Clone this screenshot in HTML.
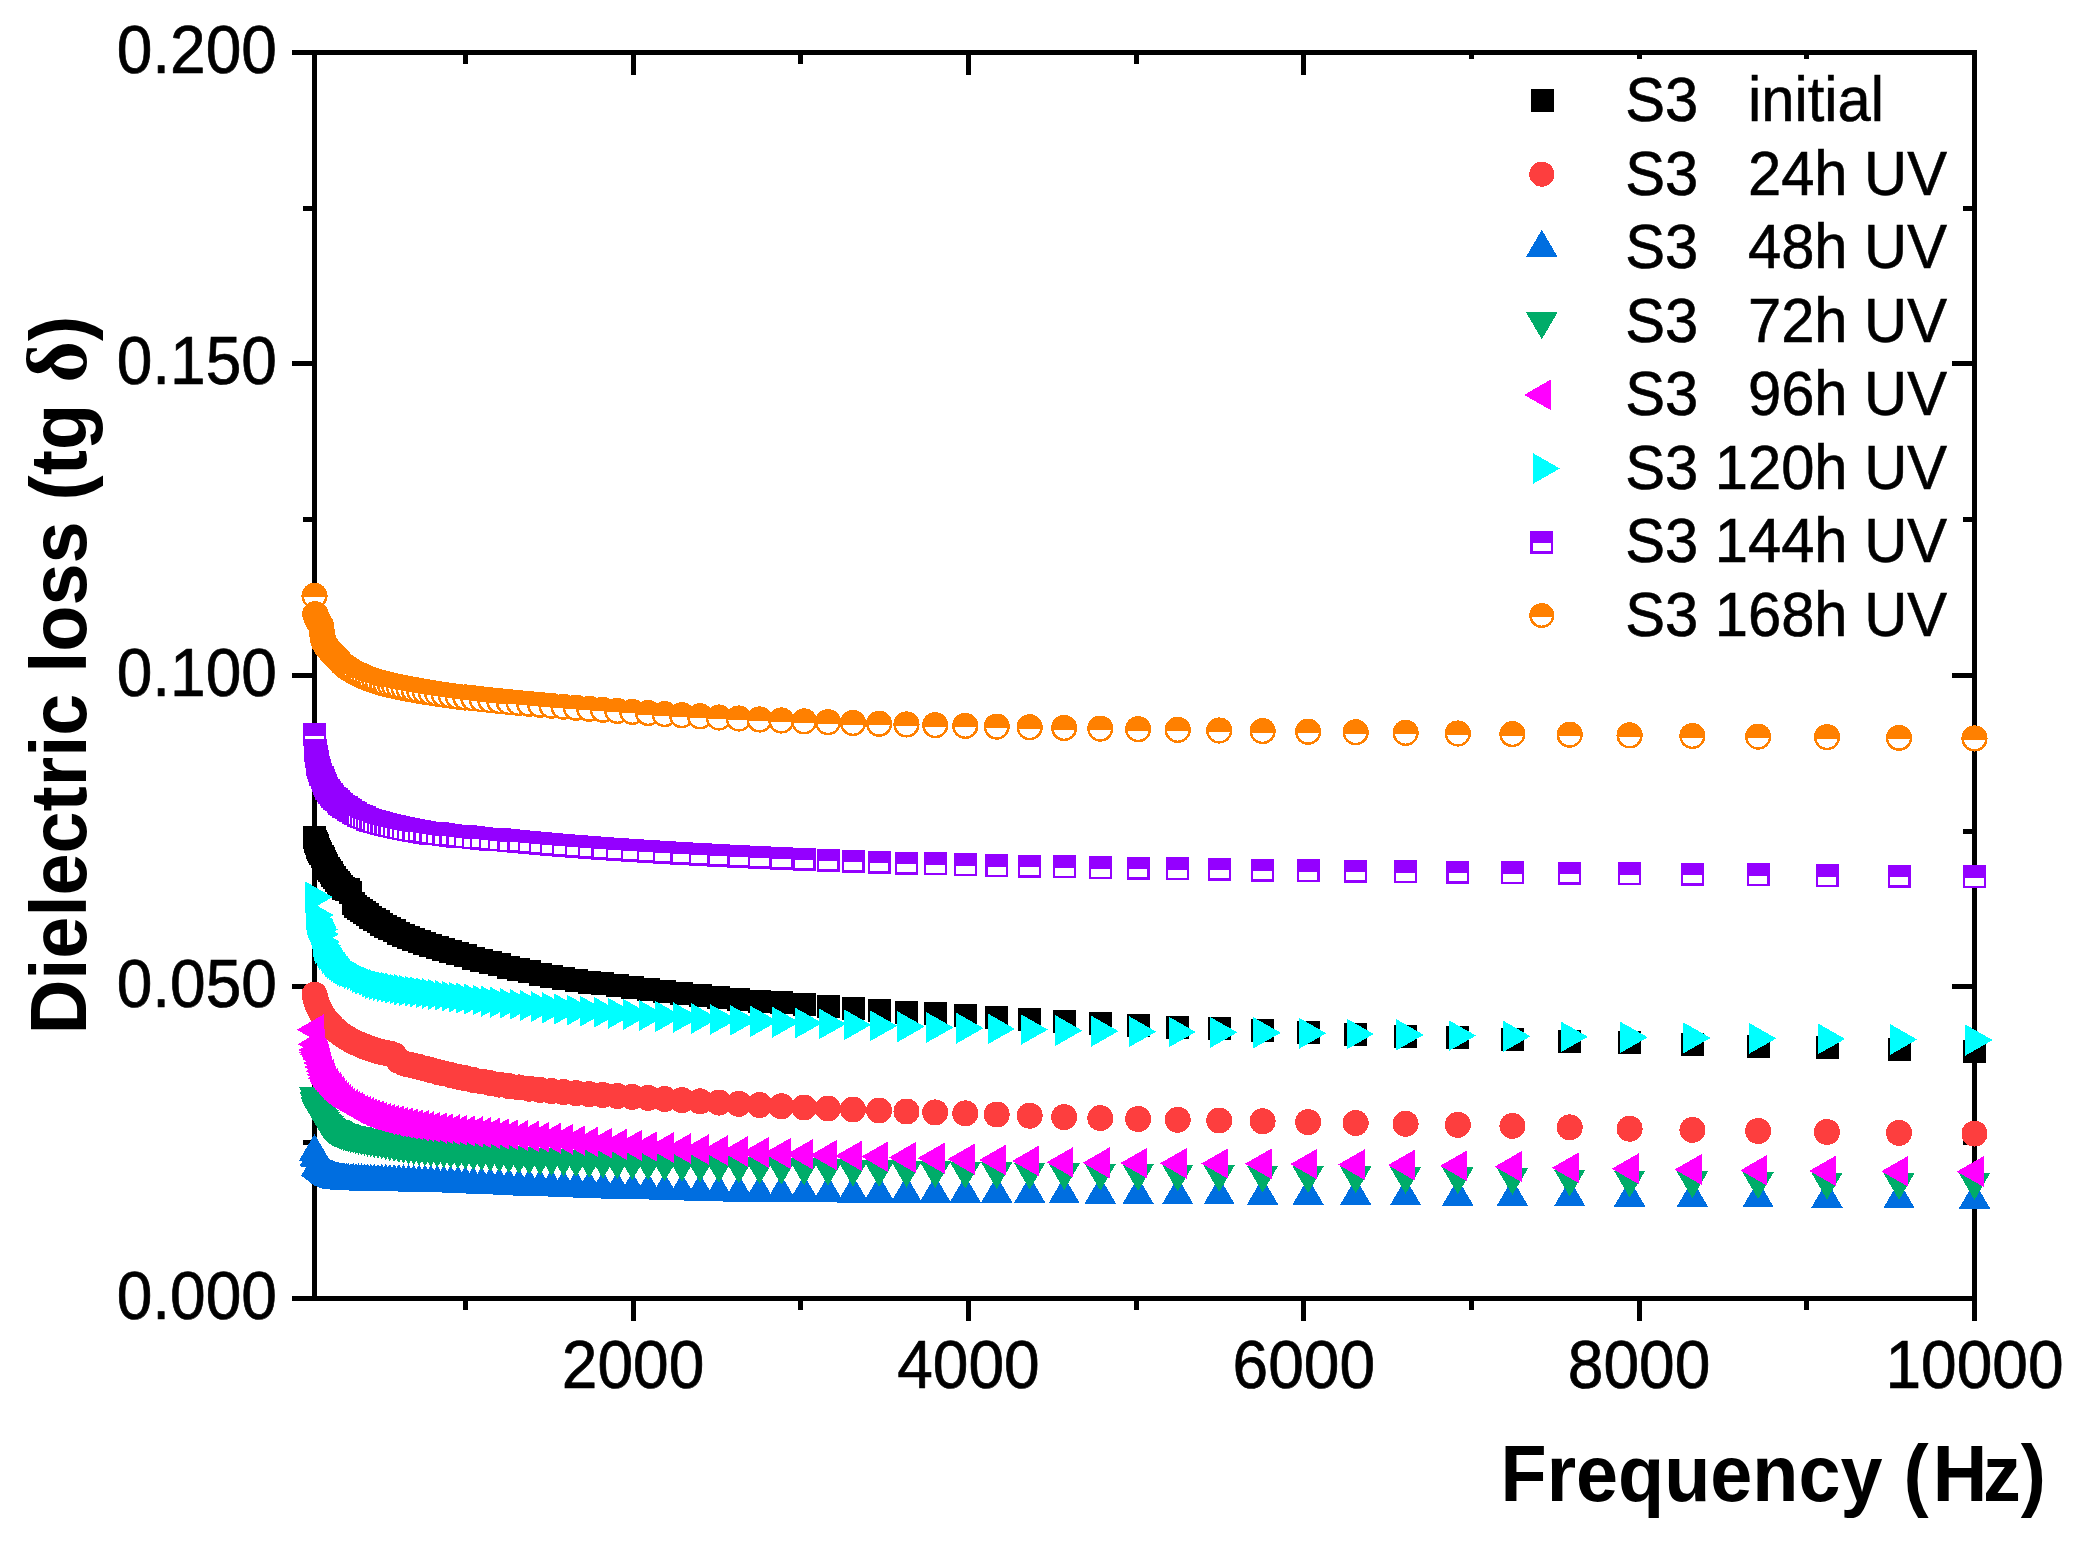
<!DOCTYPE html>
<html lang="en"><head><meta charset="utf-8"><title>Dielectric loss vs Frequency</title>
<style>html,body{margin:0;padding:0;background:#fff;}body{width:2076px;height:1545px;overflow:hidden;}svg{display:block;}</style>
</head><body>
<svg width="2076" height="1545" viewBox="0 0 2076 1545">
<defs>
<g id="l_red"><circle r="12.5" fill="#FD3E3E"/></g>
<g id="l_orange"><circle r="12.5" fill="#FF8000"/><path d="M-9.89,1.5 A10.00,10.00 0 0 0 9.89,1.5 Z" fill="#fff"/></g>
<g id="m_black"><rect x="-11.5" y="-11.5" width="23" height="23" fill="#000000"/></g>
<g id="m_red"><circle r="13" fill="#FD3E3E"/></g>
<g id="m_blue"><polygon points="0,-18 15.75,9 -15.75,9" fill="#006EE0"/></g>
<g id="m_green"><polygon points="0,18 15.75,-9 -15.75,-9" fill="#00AC69"/></g>
<g id="m_magenta"><polygon points="-17.7,0 9.3,-15.5 9.3,15.5" fill="#FF00FF"/></g>
<g id="m_cyan"><polygon points="18.2,0 -9.1,-15.5 -9.1,15.5" fill="#00FFFF"/></g>
<g id="m_purple"><rect x="-11.5" y="-11.5" width="23" height="23" fill="#9400FF"/><rect x="-9.2" y="1" width="18.6" height="8" fill="#fff"/></g>
<g id="m_orange"><circle r="13.1" fill="#FF8000"/><path d="M-10.59,1.5 A10.70,10.70 0 0 0 10.59,1.5 Z" fill="#fff"/></g>
</defs>
<rect width="2076" height="1545" fill="#fff"/>
<g fill="#000" shape-rendering="crispEdges">
<rect x="292" y="50" width="1685" height="5"/>
<rect x="292" y="1296" width="1685" height="5"/>
<rect x="312" y="50" width="5" height="1251"/>
<rect x="1972" y="50" width="5" height="1271"/>
<rect x="463" y="1301" width="5" height="9"/>
<rect x="463" y="55" width="5" height="9"/>
<rect x="631" y="1301" width="5" height="20"/>
<rect x="631" y="55" width="5" height="20"/>
<rect x="798" y="1301" width="5" height="9"/>
<rect x="798" y="55" width="5" height="9"/>
<rect x="966" y="1301" width="5" height="20"/>
<rect x="966" y="55" width="5" height="20"/>
<rect x="1134" y="1301" width="5" height="9"/>
<rect x="1134" y="55" width="5" height="9"/>
<rect x="1301" y="1301" width="5" height="20"/>
<rect x="1301" y="55" width="5" height="20"/>
<rect x="1469" y="1301" width="5" height="9"/>
<rect x="1469" y="55" width="5" height="4"/>
<rect x="1637" y="1301" width="5" height="20"/>
<rect x="1637" y="55" width="5" height="4"/>
<rect x="1804" y="1301" width="5" height="9"/>
<rect x="1804" y="55" width="5" height="4"/>
<rect x="1972" y="1301" width="5" height="20"/>
<rect x="303" y="1140" width="9" height="5"/>
<rect x="1963" y="1140" width="9" height="5"/>
<rect x="292" y="984" width="20" height="5"/>
<rect x="1952" y="984" width="20" height="5"/>
<rect x="303" y="829" width="9" height="5"/>
<rect x="1963" y="829" width="9" height="5"/>
<rect x="292" y="673" width="20" height="5"/>
<rect x="1952" y="673" width="20" height="5"/>
<rect x="303" y="517" width="9" height="5"/>
<rect x="1963" y="517" width="9" height="5"/>
<rect x="292" y="361" width="20" height="5"/>
<rect x="1952" y="361" width="20" height="5"/>
<rect x="303" y="206" width="9" height="5"/>
<rect x="1963" y="206" width="9" height="5"/>
</g>
<g shape-rendering="crispEdges">
<g id="s_black"><use href="#m_black" x="314.5" y="837.7"/><use href="#m_black" x="315.3" y="841.0"/><use href="#m_black" x="316.1" y="843.4"/><use href="#m_black" x="317.0" y="845.4"/><use href="#m_black" x="317.9" y="847.2"/><use href="#m_black" x="318.8" y="849.0"/><use href="#m_black" x="319.8" y="851.0"/><use href="#m_black" x="320.9" y="853.4"/><use href="#m_black" x="322.0" y="856.1"/><use href="#m_black" x="323.1" y="858.6"/><use href="#m_black" x="324.3" y="861.0"/><use href="#m_black" x="325.6" y="863.4"/><use href="#m_black" x="326.9" y="865.7"/><use href="#m_black" x="328.2" y="868.0"/><use href="#m_black" x="329.7" y="870.3"/><use href="#m_black" x="331.2" y="872.6"/><use href="#m_black" x="332.8" y="875.0"/><use href="#m_black" x="334.4" y="877.4"/><use href="#m_black" x="336.1" y="880.0"/><use href="#m_black" x="338.0" y="882.7"/><use href="#m_black" x="339.9" y="884.8"/><use href="#m_black" x="341.8" y="886.6"/><use href="#m_black" x="343.9" y="888.0"/><use href="#m_black" x="346.1" y="889.0"/><use href="#m_black" x="348.4" y="889.8"/><use href="#m_black" x="350.8" y="892.4"/><use href="#m_black" x="353.3" y="903.3"/><use href="#m_black" x="355.9" y="906.5"/><use href="#m_black" x="358.6" y="908.6"/><use href="#m_black" x="361.5" y="910.3"/><use href="#m_black" x="364.5" y="912.5"/><use href="#m_black" x="367.6" y="914.9"/><use href="#m_black" x="370.9" y="917.2"/><use href="#m_black" x="374.4" y="919.5"/><use href="#m_black" x="378.0" y="921.8"/><use href="#m_black" x="381.8" y="924.0"/><use href="#m_black" x="385.7" y="926.3"/><use href="#m_black" x="389.9" y="928.6"/><use href="#m_black" x="394.2" y="930.8"/><use href="#m_black" x="398.8" y="933.1"/><use href="#m_black" x="403.5" y="935.2"/><use href="#m_black" x="408.5" y="937.3"/><use href="#m_black" x="413.7" y="939.3"/><use href="#m_black" x="419.2" y="941.2"/><use href="#m_black" x="424.9" y="943.1"/><use href="#m_black" x="430.9" y="945.1"/><use href="#m_black" x="437.2" y="947.1"/><use href="#m_black" x="443.8" y="949.2"/><use href="#m_black" x="450.7" y="951.4"/><use href="#m_black" x="457.9" y="953.6"/><use href="#m_black" x="465.4" y="955.8"/><use href="#m_black" x="473.3" y="958.0"/><use href="#m_black" x="481.6" y="960.2"/><use href="#m_black" x="490.3" y="962.5"/><use href="#m_black" x="499.3" y="964.7"/><use href="#m_black" x="508.8" y="967.0"/><use href="#m_black" x="518.8" y="969.4"/><use href="#m_black" x="529.2" y="971.8"/><use href="#m_black" x="540.1" y="974.1"/><use href="#m_black" x="551.5" y="976.3"/><use href="#m_black" x="563.5" y="978.4"/><use href="#m_black" x="576.0" y="980.3"/><use href="#m_black" x="589.1" y="982.1"/><use href="#m_black" x="602.9" y="983.8"/><use href="#m_black" x="617.2" y="985.5"/><use href="#m_black" x="632.3" y="987.3"/><use href="#m_black" x="648.1" y="989.2"/><use href="#m_black" x="664.6" y="991.3"/><use href="#m_black" x="681.9" y="993.4"/><use href="#m_black" x="700.0" y="995.4"/><use href="#m_black" x="718.9" y="997.4"/><use href="#m_black" x="738.8" y="999.3"/><use href="#m_black" x="759.6" y="1001.1"/><use href="#m_black" x="781.3" y="1002.9"/><use href="#m_black" x="804.1" y="1004.8"/><use href="#m_black" x="828.0" y="1006.6"/><use href="#m_black" x="853.0" y="1008.4"/><use href="#m_black" x="879.1" y="1010.3"/><use href="#m_black" x="906.5" y="1012.1"/><use href="#m_black" x="935.2" y="1013.9"/><use href="#m_black" x="965.3" y="1015.7"/><use href="#m_black" x="996.7" y="1017.6"/><use href="#m_black" x="1029.7" y="1019.5"/><use href="#m_black" x="1064.2" y="1021.5"/><use href="#m_black" x="1100.3" y="1023.4"/><use href="#m_black" x="1138.1" y="1025.2"/><use href="#m_black" x="1177.7" y="1027.0"/><use href="#m_black" x="1219.2" y="1028.7"/><use href="#m_black" x="1262.6" y="1030.5"/><use href="#m_black" x="1308.1" y="1032.3"/><use href="#m_black" x="1355.7" y="1034.1"/><use href="#m_black" x="1405.6" y="1036.0"/><use href="#m_black" x="1457.8" y="1037.8"/><use href="#m_black" x="1512.4" y="1039.5"/><use href="#m_black" x="1569.7" y="1041.1"/><use href="#m_black" x="1629.6" y="1042.7"/><use href="#m_black" x="1692.4" y="1044.4"/><use href="#m_black" x="1758.1" y="1046.0"/><use href="#m_black" x="1827.0" y="1047.7"/><use href="#m_black" x="1899.0" y="1049.4"/><use href="#m_black" x="1974.5" y="1051.1"/></g>
<g id="s_red"><use href="#m_red" x="314.5" y="994.6"/><use href="#m_red" x="315.3" y="997.6"/><use href="#m_red" x="316.1" y="1000.5"/><use href="#m_red" x="317.0" y="1003.2"/><use href="#m_red" x="317.9" y="1005.8"/><use href="#m_red" x="318.8" y="1008.0"/><use href="#m_red" x="319.8" y="1010.1"/><use href="#m_red" x="320.9" y="1012.0"/><use href="#m_red" x="322.0" y="1013.8"/><use href="#m_red" x="323.1" y="1015.5"/><use href="#m_red" x="324.3" y="1017.2"/><use href="#m_red" x="325.6" y="1018.9"/><use href="#m_red" x="326.9" y="1020.5"/><use href="#m_red" x="328.2" y="1022.2"/><use href="#m_red" x="329.7" y="1023.9"/><use href="#m_red" x="331.2" y="1025.5"/><use href="#m_red" x="332.8" y="1027.1"/><use href="#m_red" x="334.4" y="1028.7"/><use href="#m_red" x="336.1" y="1030.3"/><use href="#m_red" x="338.0" y="1031.8"/><use href="#m_red" x="339.9" y="1033.3"/><use href="#m_red" x="341.8" y="1034.7"/><use href="#m_red" x="343.9" y="1036.1"/><use href="#m_red" x="346.1" y="1037.5"/><use href="#m_red" x="348.4" y="1038.8"/><use href="#m_red" x="350.8" y="1040.2"/><use href="#m_red" x="353.3" y="1041.5"/><use href="#m_red" x="355.9" y="1042.8"/><use href="#m_red" x="358.6" y="1044.0"/><use href="#m_red" x="361.5" y="1045.3"/><use href="#m_red" x="364.5" y="1046.5"/><use href="#m_red" x="367.6" y="1047.7"/><use href="#m_red" x="370.9" y="1048.8"/><use href="#m_red" x="374.4" y="1050.0"/><use href="#m_red" x="378.0" y="1051.1"/><use href="#m_red" x="381.8" y="1052.1"/><use href="#m_red" x="385.7" y="1052.8"/><use href="#m_red" x="389.9" y="1053.6"/><use href="#m_red" x="394.2" y="1055.1"/><use href="#m_red" x="398.8" y="1060.8"/><use href="#m_red" x="403.5" y="1063.1"/><use href="#m_red" x="408.5" y="1064.5"/><use href="#m_red" x="413.7" y="1065.7"/><use href="#m_red" x="419.2" y="1067.0"/><use href="#m_red" x="424.9" y="1068.6"/><use href="#m_red" x="430.9" y="1070.2"/><use href="#m_red" x="437.2" y="1071.8"/><use href="#m_red" x="443.8" y="1073.4"/><use href="#m_red" x="450.7" y="1075.1"/><use href="#m_red" x="457.9" y="1076.7"/><use href="#m_red" x="465.4" y="1078.3"/><use href="#m_red" x="473.3" y="1080.0"/><use href="#m_red" x="481.6" y="1081.5"/><use href="#m_red" x="490.3" y="1083.1"/><use href="#m_red" x="499.3" y="1084.6"/><use href="#m_red" x="508.8" y="1086.0"/><use href="#m_red" x="518.8" y="1087.4"/><use href="#m_red" x="529.2" y="1088.7"/><use href="#m_red" x="540.1" y="1089.9"/><use href="#m_red" x="551.5" y="1091.1"/><use href="#m_red" x="563.5" y="1092.1"/><use href="#m_red" x="576.0" y="1093.1"/><use href="#m_red" x="589.1" y="1094.1"/><use href="#m_red" x="602.9" y="1095.0"/><use href="#m_red" x="617.2" y="1096.0"/><use href="#m_red" x="632.3" y="1096.9"/><use href="#m_red" x="648.1" y="1097.9"/><use href="#m_red" x="664.6" y="1099.0"/><use href="#m_red" x="681.9" y="1100.1"/><use href="#m_red" x="700.0" y="1101.3"/><use href="#m_red" x="718.9" y="1102.6"/><use href="#m_red" x="738.8" y="1103.8"/><use href="#m_red" x="759.6" y="1105.1"/><use href="#m_red" x="781.3" y="1106.3"/><use href="#m_red" x="804.1" y="1107.5"/><use href="#m_red" x="828.0" y="1108.5"/><use href="#m_red" x="853.0" y="1109.5"/><use href="#m_red" x="879.1" y="1110.5"/><use href="#m_red" x="906.5" y="1111.5"/><use href="#m_red" x="935.2" y="1112.4"/><use href="#m_red" x="965.3" y="1113.4"/><use href="#m_red" x="996.7" y="1114.5"/><use href="#m_red" x="1029.7" y="1115.7"/><use href="#m_red" x="1064.2" y="1117.1"/><use href="#m_red" x="1100.3" y="1118.1"/><use href="#m_red" x="1138.1" y="1119.0"/><use href="#m_red" x="1177.7" y="1119.8"/><use href="#m_red" x="1219.2" y="1120.5"/><use href="#m_red" x="1262.6" y="1121.3"/><use href="#m_red" x="1308.1" y="1122.1"/><use href="#m_red" x="1355.7" y="1123.0"/><use href="#m_red" x="1405.6" y="1123.8"/><use href="#m_red" x="1457.8" y="1124.8"/><use href="#m_red" x="1512.4" y="1125.9"/><use href="#m_red" x="1569.7" y="1127.4"/><use href="#m_red" x="1629.6" y="1128.7"/><use href="#m_red" x="1692.4" y="1129.9"/><use href="#m_red" x="1758.1" y="1131.0"/><use href="#m_red" x="1827.0" y="1132.0"/><use href="#m_red" x="1899.0" y="1132.9"/><use href="#m_red" x="1974.5" y="1133.6"/></g>
<g id="s_blue"><use href="#m_blue" x="314.5" y="1152.0"/><use href="#m_blue" x="315.3" y="1157.0"/><use href="#m_blue" x="316.1" y="1158.0"/><use href="#m_blue" x="317.0" y="1166.5"/><use href="#m_blue" x="317.9" y="1167.5"/><use href="#m_blue" x="318.8" y="1168.0"/><use href="#m_blue" x="319.8" y="1168.5"/><use href="#m_blue" x="320.9" y="1169.7"/><use href="#m_blue" x="322.0" y="1170.8"/><use href="#m_blue" x="323.1" y="1171.9"/><use href="#m_blue" x="324.3" y="1173.0"/><use href="#m_blue" x="325.6" y="1174.0"/><use href="#m_blue" x="326.9" y="1174.9"/><use href="#m_blue" x="328.2" y="1175.7"/><use href="#m_blue" x="329.7" y="1176.5"/><use href="#m_blue" x="331.2" y="1177.3"/><use href="#m_blue" x="332.8" y="1177.9"/><use href="#m_blue" x="334.4" y="1178.5"/><use href="#m_blue" x="336.1" y="1179.0"/><use href="#m_blue" x="338.0" y="1179.5"/><use href="#m_blue" x="339.9" y="1179.9"/><use href="#m_blue" x="341.8" y="1180.2"/><use href="#m_blue" x="343.9" y="1180.4"/><use href="#m_blue" x="346.1" y="1180.6"/><use href="#m_blue" x="348.4" y="1180.8"/><use href="#m_blue" x="350.8" y="1181.0"/><use href="#m_blue" x="353.3" y="1181.1"/><use href="#m_blue" x="355.9" y="1181.2"/><use href="#m_blue" x="358.6" y="1181.3"/><use href="#m_blue" x="361.5" y="1181.4"/><use href="#m_blue" x="364.5" y="1181.5"/><use href="#m_blue" x="367.6" y="1181.6"/><use href="#m_blue" x="370.9" y="1181.7"/><use href="#m_blue" x="374.4" y="1181.8"/><use href="#m_blue" x="378.0" y="1181.8"/><use href="#m_blue" x="381.8" y="1181.9"/><use href="#m_blue" x="385.7" y="1182.0"/><use href="#m_blue" x="389.9" y="1182.0"/><use href="#m_blue" x="394.2" y="1182.1"/><use href="#m_blue" x="398.8" y="1182.2"/><use href="#m_blue" x="403.5" y="1182.3"/><use href="#m_blue" x="408.5" y="1182.4"/><use href="#m_blue" x="413.7" y="1182.5"/><use href="#m_blue" x="419.2" y="1182.6"/><use href="#m_blue" x="424.9" y="1182.7"/><use href="#m_blue" x="430.9" y="1182.9"/><use href="#m_blue" x="437.2" y="1183.0"/><use href="#m_blue" x="443.8" y="1183.2"/><use href="#m_blue" x="450.7" y="1183.4"/><use href="#m_blue" x="457.9" y="1183.7"/><use href="#m_blue" x="465.4" y="1184.0"/><use href="#m_blue" x="473.3" y="1184.3"/><use href="#m_blue" x="481.6" y="1184.7"/><use href="#m_blue" x="490.3" y="1185.0"/><use href="#m_blue" x="499.3" y="1185.4"/><use href="#m_blue" x="508.8" y="1185.8"/><use href="#m_blue" x="518.8" y="1186.2"/><use href="#m_blue" x="529.2" y="1186.6"/><use href="#m_blue" x="540.1" y="1187.0"/><use href="#m_blue" x="551.5" y="1187.3"/><use href="#m_blue" x="563.5" y="1187.7"/><use href="#m_blue" x="576.0" y="1188.1"/><use href="#m_blue" x="589.1" y="1188.5"/><use href="#m_blue" x="602.9" y="1189.0"/><use href="#m_blue" x="617.2" y="1189.5"/><use href="#m_blue" x="632.3" y="1190.0"/><use href="#m_blue" x="648.1" y="1190.4"/><use href="#m_blue" x="664.6" y="1190.9"/><use href="#m_blue" x="681.9" y="1191.4"/><use href="#m_blue" x="700.0" y="1191.8"/><use href="#m_blue" x="718.9" y="1192.2"/><use href="#m_blue" x="738.8" y="1192.6"/><use href="#m_blue" x="759.6" y="1192.9"/><use href="#m_blue" x="781.3" y="1193.1"/><use href="#m_blue" x="804.1" y="1193.3"/><use href="#m_blue" x="828.0" y="1193.4"/><use href="#m_blue" x="853.0" y="1193.5"/><use href="#m_blue" x="879.1" y="1193.5"/><use href="#m_blue" x="906.5" y="1193.6"/><use href="#m_blue" x="935.2" y="1193.6"/><use href="#m_blue" x="965.3" y="1193.7"/><use href="#m_blue" x="996.7" y="1193.8"/><use href="#m_blue" x="1029.7" y="1193.9"/><use href="#m_blue" x="1064.2" y="1194.4"/><use href="#m_blue" x="1100.3" y="1194.7"/><use href="#m_blue" x="1138.1" y="1195.0"/><use href="#m_blue" x="1177.7" y="1195.2"/><use href="#m_blue" x="1219.2" y="1195.4"/><use href="#m_blue" x="1262.6" y="1195.7"/><use href="#m_blue" x="1308.1" y="1195.9"/><use href="#m_blue" x="1355.7" y="1196.1"/><use href="#m_blue" x="1405.6" y="1196.4"/><use href="#m_blue" x="1457.8" y="1196.6"/><use href="#m_blue" x="1512.4" y="1196.9"/><use href="#m_blue" x="1569.7" y="1197.2"/><use href="#m_blue" x="1629.6" y="1197.6"/><use href="#m_blue" x="1692.4" y="1197.9"/><use href="#m_blue" x="1758.1" y="1198.3"/><use href="#m_blue" x="1827.0" y="1198.8"/><use href="#m_blue" x="1899.0" y="1199.2"/><use href="#m_blue" x="1974.5" y="1199.7"/></g>
<g id="s_green"><use href="#m_green" x="314.5" y="1096.0"/><use href="#m_green" x="315.3" y="1101.4"/><use href="#m_green" x="316.1" y="1105.8"/><use href="#m_green" x="317.0" y="1108.7"/><use href="#m_green" x="317.9" y="1110.7"/><use href="#m_green" x="318.8" y="1112.3"/><use href="#m_green" x="319.8" y="1113.9"/><use href="#m_green" x="320.9" y="1115.7"/><use href="#m_green" x="322.0" y="1117.5"/><use href="#m_green" x="323.1" y="1119.3"/><use href="#m_green" x="324.3" y="1121.0"/><use href="#m_green" x="325.6" y="1122.6"/><use href="#m_green" x="326.9" y="1124.1"/><use href="#m_green" x="328.2" y="1125.4"/><use href="#m_green" x="329.7" y="1126.6"/><use href="#m_green" x="331.2" y="1127.6"/><use href="#m_green" x="332.8" y="1128.5"/><use href="#m_green" x="334.4" y="1129.4"/><use href="#m_green" x="336.1" y="1130.2"/><use href="#m_green" x="338.0" y="1131.0"/><use href="#m_green" x="339.9" y="1131.8"/><use href="#m_green" x="341.8" y="1132.5"/><use href="#m_green" x="343.9" y="1133.2"/><use href="#m_green" x="346.1" y="1133.9"/><use href="#m_green" x="348.4" y="1134.6"/><use href="#m_green" x="350.8" y="1135.2"/><use href="#m_green" x="353.3" y="1135.8"/><use href="#m_green" x="355.9" y="1136.4"/><use href="#m_green" x="358.6" y="1136.9"/><use href="#m_green" x="361.5" y="1137.5"/><use href="#m_green" x="364.5" y="1138.1"/><use href="#m_green" x="367.6" y="1138.7"/><use href="#m_green" x="370.9" y="1139.4"/><use href="#m_green" x="374.4" y="1140.1"/><use href="#m_green" x="378.0" y="1140.8"/><use href="#m_green" x="381.8" y="1141.6"/><use href="#m_green" x="385.7" y="1142.4"/><use href="#m_green" x="389.9" y="1143.2"/><use href="#m_green" x="394.2" y="1144.0"/><use href="#m_green" x="398.8" y="1144.8"/><use href="#m_green" x="403.5" y="1145.5"/><use href="#m_green" x="408.5" y="1146.3"/><use href="#m_green" x="413.7" y="1147.0"/><use href="#m_green" x="419.2" y="1147.7"/><use href="#m_green" x="424.9" y="1148.3"/><use href="#m_green" x="430.9" y="1148.9"/><use href="#m_green" x="437.2" y="1149.5"/><use href="#m_green" x="443.8" y="1150.0"/><use href="#m_green" x="450.7" y="1150.5"/><use href="#m_green" x="457.9" y="1151.1"/><use href="#m_green" x="465.4" y="1151.7"/><use href="#m_green" x="473.3" y="1152.3"/><use href="#m_green" x="481.6" y="1153.0"/><use href="#m_green" x="490.3" y="1153.7"/><use href="#m_green" x="499.3" y="1154.4"/><use href="#m_green" x="508.8" y="1155.2"/><use href="#m_green" x="518.8" y="1155.9"/><use href="#m_green" x="529.2" y="1156.6"/><use href="#m_green" x="540.1" y="1157.3"/><use href="#m_green" x="551.5" y="1158.0"/><use href="#m_green" x="563.5" y="1158.6"/><use href="#m_green" x="576.0" y="1159.3"/><use href="#m_green" x="589.1" y="1160.0"/><use href="#m_green" x="602.9" y="1160.6"/><use href="#m_green" x="617.2" y="1161.3"/><use href="#m_green" x="632.3" y="1161.9"/><use href="#m_green" x="648.1" y="1162.5"/><use href="#m_green" x="664.6" y="1163.2"/><use href="#m_green" x="681.9" y="1163.8"/><use href="#m_green" x="700.0" y="1164.4"/><use href="#m_green" x="718.9" y="1165.0"/><use href="#m_green" x="738.8" y="1165.6"/><use href="#m_green" x="759.6" y="1166.2"/><use href="#m_green" x="781.3" y="1166.8"/><use href="#m_green" x="804.1" y="1167.4"/><use href="#m_green" x="828.0" y="1167.9"/><use href="#m_green" x="853.0" y="1168.5"/><use href="#m_green" x="879.1" y="1169.0"/><use href="#m_green" x="906.5" y="1169.6"/><use href="#m_green" x="935.2" y="1170.1"/><use href="#m_green" x="965.3" y="1170.6"/><use href="#m_green" x="996.7" y="1171.1"/><use href="#m_green" x="1029.7" y="1171.6"/><use href="#m_green" x="1064.2" y="1172.1"/><use href="#m_green" x="1100.3" y="1172.6"/><use href="#m_green" x="1138.1" y="1173.1"/><use href="#m_green" x="1177.7" y="1173.5"/><use href="#m_green" x="1219.2" y="1174.0"/><use href="#m_green" x="1262.6" y="1174.5"/><use href="#m_green" x="1308.1" y="1175.0"/><use href="#m_green" x="1355.7" y="1175.4"/><use href="#m_green" x="1405.6" y="1175.8"/><use href="#m_green" x="1457.8" y="1176.3"/><use href="#m_green" x="1512.4" y="1177.0"/><use href="#m_green" x="1569.7" y="1178.6"/><use href="#m_green" x="1629.6" y="1179.5"/><use href="#m_green" x="1692.4" y="1180.3"/><use href="#m_green" x="1758.1" y="1181.0"/><use href="#m_green" x="1827.0" y="1181.5"/><use href="#m_green" x="1899.0" y="1181.9"/><use href="#m_green" x="1974.5" y="1182.0"/></g>
<g id="s_magenta"><use href="#m_magenta" x="314.5" y="1029.7"/><use href="#m_magenta" x="315.3" y="1044.2"/><use href="#m_magenta" x="316.1" y="1050.1"/><use href="#m_magenta" x="317.0" y="1052.6"/><use href="#m_magenta" x="317.9" y="1054.4"/><use href="#m_magenta" x="318.8" y="1056.2"/><use href="#m_magenta" x="319.8" y="1059.1"/><use href="#m_magenta" x="320.9" y="1063.0"/><use href="#m_magenta" x="322.0" y="1067.2"/><use href="#m_magenta" x="323.1" y="1071.2"/><use href="#m_magenta" x="324.3" y="1074.7"/><use href="#m_magenta" x="325.6" y="1078.2"/><use href="#m_magenta" x="326.9" y="1081.2"/><use href="#m_magenta" x="328.2" y="1083.6"/><use href="#m_magenta" x="329.7" y="1085.8"/><use href="#m_magenta" x="331.2" y="1087.8"/><use href="#m_magenta" x="332.8" y="1089.6"/><use href="#m_magenta" x="334.4" y="1091.4"/><use href="#m_magenta" x="336.1" y="1093.3"/><use href="#m_magenta" x="338.0" y="1095.3"/><use href="#m_magenta" x="339.9" y="1097.3"/><use href="#m_magenta" x="341.8" y="1099.3"/><use href="#m_magenta" x="343.9" y="1101.3"/><use href="#m_magenta" x="346.1" y="1103.1"/><use href="#m_magenta" x="348.4" y="1104.8"/><use href="#m_magenta" x="350.8" y="1106.3"/><use href="#m_magenta" x="353.3" y="1107.7"/><use href="#m_magenta" x="355.9" y="1109.0"/><use href="#m_magenta" x="358.6" y="1110.3"/><use href="#m_magenta" x="361.5" y="1111.6"/><use href="#m_magenta" x="364.5" y="1112.7"/><use href="#m_magenta" x="367.6" y="1113.9"/><use href="#m_magenta" x="370.9" y="1115.0"/><use href="#m_magenta" x="374.4" y="1116.1"/><use href="#m_magenta" x="378.0" y="1117.2"/><use href="#m_magenta" x="381.8" y="1118.2"/><use href="#m_magenta" x="385.7" y="1119.3"/><use href="#m_magenta" x="389.9" y="1120.2"/><use href="#m_magenta" x="394.2" y="1121.2"/><use href="#m_magenta" x="398.8" y="1122.1"/><use href="#m_magenta" x="403.5" y="1123.1"/><use href="#m_magenta" x="408.5" y="1124.0"/><use href="#m_magenta" x="413.7" y="1124.8"/><use href="#m_magenta" x="419.2" y="1125.7"/><use href="#m_magenta" x="424.9" y="1126.5"/><use href="#m_magenta" x="430.9" y="1127.3"/><use href="#m_magenta" x="437.2" y="1128.1"/><use href="#m_magenta" x="443.8" y="1128.8"/><use href="#m_magenta" x="450.7" y="1129.6"/><use href="#m_magenta" x="457.9" y="1130.3"/><use href="#m_magenta" x="465.4" y="1131.1"/><use href="#m_magenta" x="473.3" y="1131.9"/><use href="#m_magenta" x="481.6" y="1132.6"/><use href="#m_magenta" x="490.3" y="1133.3"/><use href="#m_magenta" x="499.3" y="1134.0"/><use href="#m_magenta" x="508.8" y="1134.7"/><use href="#m_magenta" x="518.8" y="1135.5"/><use href="#m_magenta" x="529.2" y="1136.3"/><use href="#m_magenta" x="540.1" y="1137.2"/><use href="#m_magenta" x="551.5" y="1138.2"/><use href="#m_magenta" x="563.5" y="1139.3"/><use href="#m_magenta" x="576.0" y="1140.6"/><use href="#m_magenta" x="589.1" y="1141.8"/><use href="#m_magenta" x="602.9" y="1143.1"/><use href="#m_magenta" x="617.2" y="1144.3"/><use href="#m_magenta" x="632.3" y="1145.4"/><use href="#m_magenta" x="648.1" y="1146.5"/><use href="#m_magenta" x="664.6" y="1147.5"/><use href="#m_magenta" x="681.9" y="1148.5"/><use href="#m_magenta" x="700.0" y="1149.5"/><use href="#m_magenta" x="718.9" y="1150.5"/><use href="#m_magenta" x="738.8" y="1151.5"/><use href="#m_magenta" x="759.6" y="1152.4"/><use href="#m_magenta" x="781.3" y="1153.4"/><use href="#m_magenta" x="804.1" y="1154.3"/><use href="#m_magenta" x="828.0" y="1155.1"/><use href="#m_magenta" x="853.0" y="1155.9"/><use href="#m_magenta" x="879.1" y="1156.7"/><use href="#m_magenta" x="906.5" y="1157.5"/><use href="#m_magenta" x="935.2" y="1158.2"/><use href="#m_magenta" x="965.3" y="1159.1"/><use href="#m_magenta" x="996.7" y="1160.0"/><use href="#m_magenta" x="1029.7" y="1161.0"/><use href="#m_magenta" x="1064.2" y="1162.3"/><use href="#m_magenta" x="1100.3" y="1162.8"/><use href="#m_magenta" x="1138.1" y="1163.1"/><use href="#m_magenta" x="1177.7" y="1163.3"/><use href="#m_magenta" x="1219.2" y="1163.5"/><use href="#m_magenta" x="1262.6" y="1163.8"/><use href="#m_magenta" x="1308.1" y="1164.1"/><use href="#m_magenta" x="1355.7" y="1164.6"/><use href="#m_magenta" x="1405.6" y="1165.1"/><use href="#m_magenta" x="1457.8" y="1165.8"/><use href="#m_magenta" x="1512.4" y="1166.6"/><use href="#m_magenta" x="1569.7" y="1167.8"/><use href="#m_magenta" x="1629.6" y="1168.7"/><use href="#m_magenta" x="1692.4" y="1169.5"/><use href="#m_magenta" x="1758.1" y="1170.3"/><use href="#m_magenta" x="1827.0" y="1170.9"/><use href="#m_magenta" x="1899.0" y="1171.3"/><use href="#m_magenta" x="1974.5" y="1171.6"/></g>
<g id="s_cyan"><use href="#m_cyan" x="314.5" y="897.1"/><use href="#m_cyan" x="315.3" y="915.0"/><use href="#m_cyan" x="316.1" y="920.0"/><use href="#m_cyan" x="317.0" y="923.0"/><use href="#m_cyan" x="317.9" y="925.0"/><use href="#m_cyan" x="318.8" y="926.9"/><use href="#m_cyan" x="319.8" y="929.5"/><use href="#m_cyan" x="320.9" y="934.1"/><use href="#m_cyan" x="322.0" y="942.0"/><use href="#m_cyan" x="323.1" y="945.7"/><use href="#m_cyan" x="324.3" y="948.5"/><use href="#m_cyan" x="325.6" y="950.7"/><use href="#m_cyan" x="326.9" y="952.5"/><use href="#m_cyan" x="328.2" y="954.3"/><use href="#m_cyan" x="329.7" y="956.3"/><use href="#m_cyan" x="331.2" y="958.3"/><use href="#m_cyan" x="332.8" y="960.2"/><use href="#m_cyan" x="334.4" y="962.0"/><use href="#m_cyan" x="336.1" y="963.7"/><use href="#m_cyan" x="338.0" y="965.3"/><use href="#m_cyan" x="339.9" y="966.8"/><use href="#m_cyan" x="341.8" y="968.1"/><use href="#m_cyan" x="343.9" y="969.3"/><use href="#m_cyan" x="346.1" y="970.3"/><use href="#m_cyan" x="348.4" y="971.3"/><use href="#m_cyan" x="350.8" y="972.2"/><use href="#m_cyan" x="353.3" y="973.3"/><use href="#m_cyan" x="355.9" y="974.5"/><use href="#m_cyan" x="358.6" y="975.9"/><use href="#m_cyan" x="361.5" y="977.3"/><use href="#m_cyan" x="364.5" y="978.9"/><use href="#m_cyan" x="367.6" y="980.5"/><use href="#m_cyan" x="370.9" y="982.0"/><use href="#m_cyan" x="374.4" y="983.4"/><use href="#m_cyan" x="378.0" y="984.6"/><use href="#m_cyan" x="381.8" y="985.6"/><use href="#m_cyan" x="385.7" y="986.6"/><use href="#m_cyan" x="389.9" y="987.4"/><use href="#m_cyan" x="394.2" y="988.2"/><use href="#m_cyan" x="398.8" y="989.0"/><use href="#m_cyan" x="403.5" y="989.7"/><use href="#m_cyan" x="408.5" y="990.4"/><use href="#m_cyan" x="413.7" y="991.1"/><use href="#m_cyan" x="419.2" y="991.9"/><use href="#m_cyan" x="424.9" y="992.7"/><use href="#m_cyan" x="430.9" y="993.5"/><use href="#m_cyan" x="437.2" y="994.4"/><use href="#m_cyan" x="443.8" y="995.3"/><use href="#m_cyan" x="450.7" y="996.2"/><use href="#m_cyan" x="457.9" y="997.2"/><use href="#m_cyan" x="465.4" y="998.1"/><use href="#m_cyan" x="473.3" y="999.1"/><use href="#m_cyan" x="481.6" y="1000.1"/><use href="#m_cyan" x="490.3" y="1001.2"/><use href="#m_cyan" x="499.3" y="1002.2"/><use href="#m_cyan" x="508.8" y="1003.3"/><use href="#m_cyan" x="518.8" y="1004.4"/><use href="#m_cyan" x="529.2" y="1005.5"/><use href="#m_cyan" x="540.1" y="1006.7"/><use href="#m_cyan" x="551.5" y="1007.8"/><use href="#m_cyan" x="563.5" y="1009.0"/><use href="#m_cyan" x="576.0" y="1010.1"/><use href="#m_cyan" x="589.1" y="1011.2"/><use href="#m_cyan" x="602.9" y="1012.3"/><use href="#m_cyan" x="617.2" y="1013.3"/><use href="#m_cyan" x="632.3" y="1014.4"/><use href="#m_cyan" x="648.1" y="1015.5"/><use href="#m_cyan" x="664.6" y="1016.5"/><use href="#m_cyan" x="681.9" y="1017.5"/><use href="#m_cyan" x="700.0" y="1018.5"/><use href="#m_cyan" x="718.9" y="1019.5"/><use href="#m_cyan" x="738.8" y="1020.4"/><use href="#m_cyan" x="759.6" y="1021.3"/><use href="#m_cyan" x="781.3" y="1022.2"/><use href="#m_cyan" x="804.1" y="1023.0"/><use href="#m_cyan" x="828.0" y="1023.9"/><use href="#m_cyan" x="853.0" y="1024.8"/><use href="#m_cyan" x="879.1" y="1025.8"/><use href="#m_cyan" x="906.5" y="1026.7"/><use href="#m_cyan" x="935.2" y="1027.5"/><use href="#m_cyan" x="965.3" y="1028.2"/><use href="#m_cyan" x="996.7" y="1028.9"/><use href="#m_cyan" x="1029.7" y="1029.6"/><use href="#m_cyan" x="1064.2" y="1030.6"/><use href="#m_cyan" x="1100.3" y="1031.2"/><use href="#m_cyan" x="1138.1" y="1031.7"/><use href="#m_cyan" x="1177.7" y="1032.0"/><use href="#m_cyan" x="1219.2" y="1032.4"/><use href="#m_cyan" x="1262.6" y="1032.8"/><use href="#m_cyan" x="1308.1" y="1033.3"/><use href="#m_cyan" x="1355.7" y="1034.0"/><use href="#m_cyan" x="1405.6" y="1034.8"/><use href="#m_cyan" x="1457.8" y="1035.6"/><use href="#m_cyan" x="1512.4" y="1036.3"/><use href="#m_cyan" x="1569.7" y="1036.8"/><use href="#m_cyan" x="1629.6" y="1037.3"/><use href="#m_cyan" x="1692.4" y="1037.9"/><use href="#m_cyan" x="1758.1" y="1038.4"/><use href="#m_cyan" x="1827.0" y="1038.9"/><use href="#m_cyan" x="1899.0" y="1039.5"/><use href="#m_cyan" x="1974.5" y="1040.1"/></g>
<g id="s_purple"><use href="#m_purple" x="314.5" y="734.9"/><use href="#m_purple" x="315.3" y="750.5"/><use href="#m_purple" x="316.1" y="756.9"/><use href="#m_purple" x="317.0" y="761.5"/><use href="#m_purple" x="317.9" y="764.9"/><use href="#m_purple" x="318.8" y="767.9"/><use href="#m_purple" x="319.8" y="770.9"/><use href="#m_purple" x="320.9" y="774.2"/><use href="#m_purple" x="322.0" y="777.3"/><use href="#m_purple" x="323.1" y="780.2"/><use href="#m_purple" x="324.3" y="783.0"/><use href="#m_purple" x="325.6" y="785.7"/><use href="#m_purple" x="326.9" y="788.1"/><use href="#m_purple" x="328.2" y="790.4"/><use href="#m_purple" x="329.7" y="792.5"/><use href="#m_purple" x="331.2" y="794.5"/><use href="#m_purple" x="332.8" y="796.4"/><use href="#m_purple" x="334.4" y="798.2"/><use href="#m_purple" x="336.1" y="799.9"/><use href="#m_purple" x="338.0" y="801.5"/><use href="#m_purple" x="339.9" y="803.1"/><use href="#m_purple" x="341.8" y="804.7"/><use href="#m_purple" x="343.9" y="806.2"/><use href="#m_purple" x="346.1" y="807.8"/><use href="#m_purple" x="348.4" y="809.3"/><use href="#m_purple" x="350.8" y="810.8"/><use href="#m_purple" x="353.3" y="812.3"/><use href="#m_purple" x="355.9" y="813.8"/><use href="#m_purple" x="358.6" y="815.2"/><use href="#m_purple" x="361.5" y="816.5"/><use href="#m_purple" x="364.5" y="817.9"/><use href="#m_purple" x="367.6" y="819.2"/><use href="#m_purple" x="370.9" y="820.4"/><use href="#m_purple" x="374.4" y="821.6"/><use href="#m_purple" x="378.0" y="822.7"/><use href="#m_purple" x="381.8" y="823.8"/><use href="#m_purple" x="385.7" y="824.8"/><use href="#m_purple" x="389.9" y="825.8"/><use href="#m_purple" x="394.2" y="826.8"/><use href="#m_purple" x="398.8" y="827.7"/><use href="#m_purple" x="403.5" y="828.7"/><use href="#m_purple" x="408.5" y="829.6"/><use href="#m_purple" x="413.7" y="830.5"/><use href="#m_purple" x="419.2" y="831.3"/><use href="#m_purple" x="424.9" y="832.2"/><use href="#m_purple" x="430.9" y="833.1"/><use href="#m_purple" x="437.2" y="833.9"/><use href="#m_purple" x="443.8" y="834.7"/><use href="#m_purple" x="450.7" y="835.4"/><use href="#m_purple" x="457.9" y="836.2"/><use href="#m_purple" x="465.4" y="836.9"/><use href="#m_purple" x="473.3" y="837.6"/><use href="#m_purple" x="481.6" y="838.4"/><use href="#m_purple" x="490.3" y="839.1"/><use href="#m_purple" x="499.3" y="839.8"/><use href="#m_purple" x="508.8" y="840.6"/><use href="#m_purple" x="518.8" y="841.4"/><use href="#m_purple" x="529.2" y="842.3"/><use href="#m_purple" x="540.1" y="843.2"/><use href="#m_purple" x="551.5" y="844.1"/><use href="#m_purple" x="563.5" y="845.1"/><use href="#m_purple" x="576.0" y="846.1"/><use href="#m_purple" x="589.1" y="847.1"/><use href="#m_purple" x="602.9" y="848.1"/><use href="#m_purple" x="617.2" y="849.2"/><use href="#m_purple" x="632.3" y="850.2"/><use href="#m_purple" x="648.1" y="851.2"/><use href="#m_purple" x="664.6" y="852.3"/><use href="#m_purple" x="681.9" y="853.3"/><use href="#m_purple" x="700.0" y="854.3"/><use href="#m_purple" x="718.9" y="855.4"/><use href="#m_purple" x="738.8" y="856.4"/><use href="#m_purple" x="759.6" y="857.4"/><use href="#m_purple" x="781.3" y="858.4"/><use href="#m_purple" x="804.1" y="859.4"/><use href="#m_purple" x="828.0" y="860.3"/><use href="#m_purple" x="853.0" y="861.2"/><use href="#m_purple" x="879.1" y="862.1"/><use href="#m_purple" x="906.5" y="863.0"/><use href="#m_purple" x="935.2" y="863.9"/><use href="#m_purple" x="965.3" y="864.7"/><use href="#m_purple" x="996.7" y="865.5"/><use href="#m_purple" x="1029.7" y="866.2"/><use href="#m_purple" x="1064.2" y="866.9"/><use href="#m_purple" x="1100.3" y="867.6"/><use href="#m_purple" x="1138.1" y="868.2"/><use href="#m_purple" x="1177.7" y="868.8"/><use href="#m_purple" x="1219.2" y="869.4"/><use href="#m_purple" x="1262.6" y="870.0"/><use href="#m_purple" x="1308.1" y="870.5"/><use href="#m_purple" x="1355.7" y="871.1"/><use href="#m_purple" x="1405.6" y="871.6"/><use href="#m_purple" x="1457.8" y="872.2"/><use href="#m_purple" x="1512.4" y="872.8"/><use href="#m_purple" x="1569.7" y="873.3"/><use href="#m_purple" x="1629.6" y="873.9"/><use href="#m_purple" x="1692.4" y="874.4"/><use href="#m_purple" x="1758.1" y="874.9"/><use href="#m_purple" x="1827.0" y="875.5"/><use href="#m_purple" x="1899.0" y="876.0"/><use href="#m_purple" x="1974.5" y="876.5"/></g>
<g id="s_orange"><use href="#m_orange" x="314.5" y="595.9"/><use href="#m_orange" x="315.3" y="614.2"/><use href="#m_orange" x="316.1" y="616.5"/><use href="#m_orange" x="317.0" y="618.5"/><use href="#m_orange" x="317.9" y="620.5"/><use href="#m_orange" x="318.8" y="622.0"/><use href="#m_orange" x="319.8" y="623.5"/><use href="#m_orange" x="320.9" y="625.5"/><use href="#m_orange" x="322.0" y="633.0"/><use href="#m_orange" x="323.1" y="639.5"/><use href="#m_orange" x="324.3" y="643.0"/><use href="#m_orange" x="325.6" y="645.3"/><use href="#m_orange" x="326.9" y="647.1"/><use href="#m_orange" x="328.2" y="648.7"/><use href="#m_orange" x="329.7" y="650.2"/><use href="#m_orange" x="331.2" y="651.8"/><use href="#m_orange" x="332.8" y="653.5"/><use href="#m_orange" x="334.4" y="655.3"/><use href="#m_orange" x="336.1" y="657.1"/><use href="#m_orange" x="338.0" y="659.1"/><use href="#m_orange" x="339.9" y="661.2"/><use href="#m_orange" x="341.8" y="663.3"/><use href="#m_orange" x="343.9" y="665.2"/><use href="#m_orange" x="346.1" y="666.9"/><use href="#m_orange" x="348.4" y="668.5"/><use href="#m_orange" x="350.8" y="670.0"/><use href="#m_orange" x="353.3" y="671.5"/><use href="#m_orange" x="355.9" y="672.9"/><use href="#m_orange" x="358.6" y="674.2"/><use href="#m_orange" x="361.5" y="675.6"/><use href="#m_orange" x="364.5" y="676.9"/><use href="#m_orange" x="367.6" y="678.2"/><use href="#m_orange" x="370.9" y="679.5"/><use href="#m_orange" x="374.4" y="680.7"/><use href="#m_orange" x="378.0" y="681.9"/><use href="#m_orange" x="381.8" y="683.0"/><use href="#m_orange" x="385.7" y="684.0"/><use href="#m_orange" x="389.9" y="685.0"/><use href="#m_orange" x="394.2" y="685.9"/><use href="#m_orange" x="398.8" y="686.9"/><use href="#m_orange" x="403.5" y="687.8"/><use href="#m_orange" x="408.5" y="688.8"/><use href="#m_orange" x="413.7" y="689.7"/><use href="#m_orange" x="419.2" y="690.7"/><use href="#m_orange" x="424.9" y="691.7"/><use href="#m_orange" x="430.9" y="692.6"/><use href="#m_orange" x="437.2" y="693.6"/><use href="#m_orange" x="443.8" y="694.6"/><use href="#m_orange" x="450.7" y="695.6"/><use href="#m_orange" x="457.9" y="696.6"/><use href="#m_orange" x="465.4" y="697.5"/><use href="#m_orange" x="473.3" y="698.4"/><use href="#m_orange" x="481.6" y="699.3"/><use href="#m_orange" x="490.3" y="700.2"/><use href="#m_orange" x="499.3" y="701.1"/><use href="#m_orange" x="508.8" y="702.0"/><use href="#m_orange" x="518.8" y="702.9"/><use href="#m_orange" x="529.2" y="703.8"/><use href="#m_orange" x="540.1" y="704.7"/><use href="#m_orange" x="551.5" y="705.7"/><use href="#m_orange" x="563.5" y="706.7"/><use href="#m_orange" x="576.0" y="707.8"/><use href="#m_orange" x="589.1" y="708.8"/><use href="#m_orange" x="602.9" y="709.8"/><use href="#m_orange" x="617.2" y="710.9"/><use href="#m_orange" x="632.3" y="711.9"/><use href="#m_orange" x="648.1" y="713.0"/><use href="#m_orange" x="664.6" y="714.1"/><use href="#m_orange" x="681.9" y="715.2"/><use href="#m_orange" x="700.0" y="716.3"/><use href="#m_orange" x="718.9" y="717.5"/><use href="#m_orange" x="738.8" y="718.5"/><use href="#m_orange" x="759.6" y="719.5"/><use href="#m_orange" x="781.3" y="720.5"/><use href="#m_orange" x="804.1" y="721.4"/><use href="#m_orange" x="828.0" y="722.2"/><use href="#m_orange" x="853.0" y="723.0"/><use href="#m_orange" x="879.1" y="723.8"/><use href="#m_orange" x="906.5" y="724.5"/><use href="#m_orange" x="935.2" y="725.2"/><use href="#m_orange" x="965.3" y="725.9"/><use href="#m_orange" x="996.7" y="726.6"/><use href="#m_orange" x="1029.7" y="727.3"/><use href="#m_orange" x="1064.2" y="728.0"/><use href="#m_orange" x="1100.3" y="728.6"/><use href="#m_orange" x="1138.1" y="729.2"/><use href="#m_orange" x="1177.7" y="729.9"/><use href="#m_orange" x="1219.2" y="730.5"/><use href="#m_orange" x="1262.6" y="731.1"/><use href="#m_orange" x="1308.1" y="731.7"/><use href="#m_orange" x="1355.7" y="732.3"/><use href="#m_orange" x="1405.6" y="732.9"/><use href="#m_orange" x="1457.8" y="733.5"/><use href="#m_orange" x="1512.4" y="734.1"/><use href="#m_orange" x="1569.7" y="734.7"/><use href="#m_orange" x="1629.6" y="735.4"/><use href="#m_orange" x="1692.4" y="736.0"/><use href="#m_orange" x="1758.1" y="736.6"/><use href="#m_orange" x="1827.0" y="737.2"/><use href="#m_orange" x="1899.0" y="737.9"/><use href="#m_orange" x="1974.5" y="738.5"/></g>
</g>
<g font-family="'Liberation Sans', Arial, sans-serif" font-size="68.5" fill="#000" stroke="#000" stroke-width="0.7">
<text transform="translate(277,1318.9) scale(0.9355,1)" text-anchor="end">0.000</text>
<text transform="translate(277,1007.4) scale(0.9355,1)" text-anchor="end">0.050</text>
<text transform="translate(277,695.9) scale(0.9355,1)" text-anchor="end">0.100</text>
<text transform="translate(277,384.4) scale(0.9355,1)" text-anchor="end">0.150</text>
<text transform="translate(277,72.9) scale(0.9355,1)" text-anchor="end">0.200</text>
<text transform="translate(633.1,1388.3) scale(0.9355,1)" text-anchor="middle">2000</text>
<text transform="translate(968.4,1388.3) scale(0.9355,1)" text-anchor="middle">4000</text>
<text transform="translate(1303.8,1388.3) scale(0.9355,1)" text-anchor="middle">6000</text>
<text transform="translate(1639.1,1388.3) scale(0.9355,1)" text-anchor="middle">8000</text>
<text transform="translate(1974.5,1388.3) scale(0.9355,1)" text-anchor="middle">10000</text>
</g>
<g font-family="'Liberation Sans', Arial, sans-serif" font-weight="bold" font-size="79" fill="#000">
<text transform="translate(2046,1501) scale(0.956,1)" text-anchor="end">Frequency (<tspan dx="4.5">H</tspan><tspan dx="-4.5">z)</tspan></text>
<text transform="translate(85.8,675.1) rotate(-90) scale(0.9574,1)" text-anchor="middle">Dielectric loss (tg <tspan font-family="'Liberation Serif', serif" font-size="84">δ</tspan>)</text>
</g>
<g font-family="'Liberation Sans', Arial, sans-serif" font-size="63.3" fill="#000" stroke="#000" stroke-width="0.6" xml:space="preserve">
<use href="#m_black" x="1542.5" y="100.7" shape-rendering="crispEdges" stroke="none"/>
<text transform="translate(1625.2,121.1) scale(0.943,1)" style="white-space:pre">S3   initial</text>
<use href="#l_red" x="1541.8" y="174.2" shape-rendering="crispEdges" stroke="none"/>
<text transform="translate(1625.2,194.6) scale(0.943,1)" style="white-space:pre">S3   24h UV</text>
<use href="#m_blue" x="1541.8" y="247.8" shape-rendering="crispEdges" stroke="none"/>
<text transform="translate(1625.2,268.2) scale(0.943,1)" style="white-space:pre">S3   48h UV</text>
<use href="#m_green" x="1541.8" y="321.4" shape-rendering="crispEdges" stroke="none"/>
<text transform="translate(1625.2,341.8) scale(0.943,1)" style="white-space:pre">S3   72h UV</text>
<use href="#m_magenta" x="1541.8" y="394.9" shape-rendering="crispEdges" stroke="none"/>
<text transform="translate(1625.2,415.3) scale(0.943,1)" style="white-space:pre">S3   96h UV</text>
<use href="#m_cyan" x="1541.8" y="468.5" shape-rendering="crispEdges" stroke="none"/>
<text transform="translate(1625.2,488.9) scale(0.943,1)" style="white-space:pre">S3 120h UV</text>
<use href="#m_purple" x="1541.8" y="542.0" shape-rendering="crispEdges" stroke="none"/>
<text transform="translate(1625.2,562.4) scale(0.943,1)" style="white-space:pre">S3 144h UV</text>
<use href="#l_orange" x="1541.8" y="615.6" shape-rendering="crispEdges" stroke="none"/>
<text transform="translate(1625.2,636.0) scale(0.943,1)" style="white-space:pre">S3 168h UV</text>
</g>
</svg>
</body></html>
